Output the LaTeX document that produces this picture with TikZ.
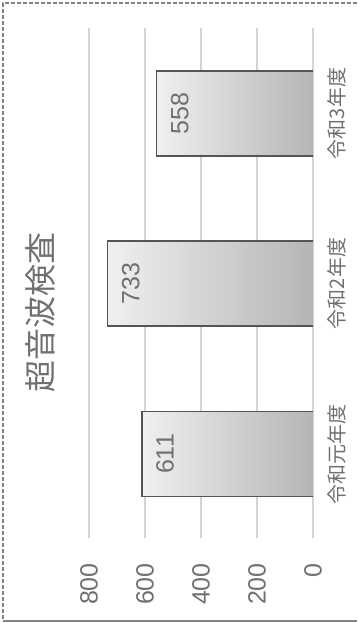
\documentclass[tikz,border=0pt]{standalone}
\usepackage{fontspec}
\setmainfont{Noto Sans CJK JP}
\newfontfamily\numfont{Liberation Sans}
\usetikzlibrary{positioning}
\definecolor{gridgray}{RGB}{212,212,212}
\definecolor{textgray}{RGB}{112,112,112}
\definecolor{baredge}{RGB}{85,85,85}
\definecolor{framegray}{RGB}{130,130,130}

\begin{document}
\begin{tikzpicture}[
    x=1pt, y=-1pt,
    grid/.style={gridgray, line width=1.2pt},
    tick/.style={font=\numfont\fontsize{25}{25}\selectfont, textgray, rotate=90, anchor=east, inner sep=0pt},
    cat/.style={font=\fontsize{20}{20}\selectfont, textgray, rotate=90, inner sep=0pt},
    bar/.style={left color=gray!12, right color=gray!58, minimum height=85pt, anchor=east, inner sep=0pt, outer sep=0pt},
    val/.style={font=\numfont\fontsize{25}{25}\selectfont, textgray, rotate=90, inner sep=0pt}
]
    % Frame
    \useasboundingbox (0,0) rectangle (357,623);
    \draw[framegray, line width=1.5pt, dash pattern=on 4pt off 2pt] (357,3) -- (3,3) -- (3,621);
    \draw[framegray, line width=1.2pt] (3,621) -- (357,621);

    % Title
    \node[font=\fontsize{32}{32}\selectfont, textgray, rotate=90] (title) at (40,312) {超音波検査};

    % Grid lines and axis labels
    \foreach \v/\x in {0/313,200/257,400/201,600/145,800/89} {
        \draw[grid] (\x,28) -- (\x,538);
        \node[tick] (tick\v) at (\x,563) {\v};
    }

    % Bars with values and years
    \foreach \v/\y/\n/\lab in {611/454/a/令和元年度, 733/283.5/b/令和2年度, 558/113.5/c/令和3年度} {
        \pgfmathsetmacro{\w}{0.28*\v}
        \node[bar, minimum width=\w pt] (bar\n) at (313,\y) {};
        \draw[baredge, line width=1.3pt] (bar\n.north east) -- (bar\n.north west) -- (bar\n.south west) -- (bar\n.south east);
        \node[val] (val\n) at ([xshift=23pt]bar\n.west) {\v};
        \node[cat] (cat\n) at (337,\y) {\lab};
    }
\end{tikzpicture}
\end{document}
